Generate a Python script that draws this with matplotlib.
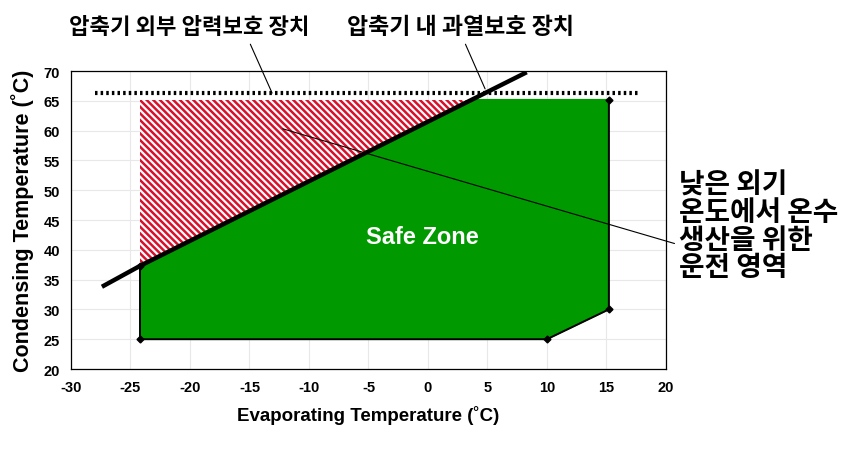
import matplotlib

matplotlib.use("Agg")
import matplotlib.pyplot as plt

plt.rcParams["font.family"] = ["Liberation Sans", "Noto Sans CJK KR", "DejaVu Sans"]
plt.rcParams["hatch.linewidth"] = 1.8
plt.rcParams["axes.unicode_minus"] = False

# Operating envelope (evaporating temp, condensing temp)
safe_x = [-24.2, -24.2, 10.0, 15.2, 15.2, 3.9]
safe_y = [37.3, 25.0, 25.0, 30.0, 65.2, 65.2]
hot_x = [-24.2, -24.2, 3.9]
hot_y = [37.3, 65.2, 65.2]

# discharge overheat protection limit line
limit_x = [-27.4, -24.2, 8.3]
limit_y = [33.8, 37.3, 69.8]

# external high-pressure protection level
hp_x = [-28.0, 17.7]
hp_y = [66.3, 66.3]

xticks = list(range(-30, 21, 5))
yticks = list(range(20, 71, 5))

label_hp = "압축기 외부 압력보호 장치"
label_oh = "압축기 내 과열보호 장치"
label_zone = "낮은 외기\n온도에서 온수\n생산을 위한\n운전 영역"

fig = plt.figure(figsize=(8.43, 4.52), dpi=100)
ax = fig.add_axes([0.0842, 0.1814, 0.7058, 0.6593])

ax.grid(True, color="#e8e8e8", lw=0.8)
ax.set_axisbelow(True)

ax.fill(safe_x, safe_y, color="#009900", zorder=2)
ax.plot(safe_x[:5], safe_y[:5], color="black", lw=1.4, marker="D", ms=3.5, zorder=3)
ax.fill(hot_x, hot_y, facecolor="white", edgecolor="#d8102c",
        hatch="\\\\\\\\\\", lw=0, zorder=2)
ax.plot(limit_x, limit_y, color="black", lw=3.2, solid_capstyle="butt", zorder=4)
ax.plot(hp_x, hp_y, color="black", lw=3.0, ls=(0, (0.6, 0.75)), zorder=4)

ax.text(-0.5, 42.2, "Safe Zone", color="white", fontsize=17, fontweight="bold",
        ha="center", va="center", zorder=5)

ax.set_xlim(-30, 20)
ax.set_ylim(20, 70)
ax.set_xticks(xticks)
ax.set_yticks(yticks)
ax.tick_params(length=0, labelsize=10.5, pad=8)
for lbl in ax.get_xticklabels() + ax.get_yticklabels():
    lbl.set_fontweight("bold")
for sp in ax.spines.values():
    sp.set_linewidth(0.9)

ax.set_xlabel("Evaporating Temperature (˚C)", fontsize=13.5, fontweight="bold", labelpad=8)
ax.set_ylabel("Condensing Temperature (˚C)", fontsize=15.5, fontweight="bold", labelpad=7)

kfont = ["Noto Sans CJK KR", "DejaVu Sans"]
ax.annotate(label_hp, xy=(-13.1, 66.3), xycoords="data",
            xytext=(0.225, 0.94), textcoords="figure fraction",
            ha="center", va="center", fontsize=16, fontweight="bold", family=kfont,
            arrowprops=dict(arrowstyle="-", lw=0.8, color="black",
                            relpos=(0.74, 0.0), shrinkA=3, shrinkB=0))
ax.annotate(label_oh, xy=(4.8, 67.0), xycoords="data",
            xytext=(0.546, 0.94), textcoords="figure fraction",
            ha="center", va="center", fontsize=16.5, fontweight="bold", family=kfont,
            arrowprops=dict(arrowstyle="-", lw=0.8, color="black",
                            relpos=(0.51, 0.0), shrinkA=3, shrinkB=0))
ax.annotate(label_zone, xy=(-12.2, 60.3), xycoords="data",
            xytext=(0.805, 0.498), textcoords="figure fraction",
            ha="left", va="center", fontsize=20, fontweight="bold", family=kfont,
            linespacing=0.98,
            arrowprops=dict(arrowstyle="-", lw=0.8, color="black",
                            relpos=(0.0, 0.33), shrinkA=1, shrinkB=0))

fig.savefig("out.png", dpi=100)
